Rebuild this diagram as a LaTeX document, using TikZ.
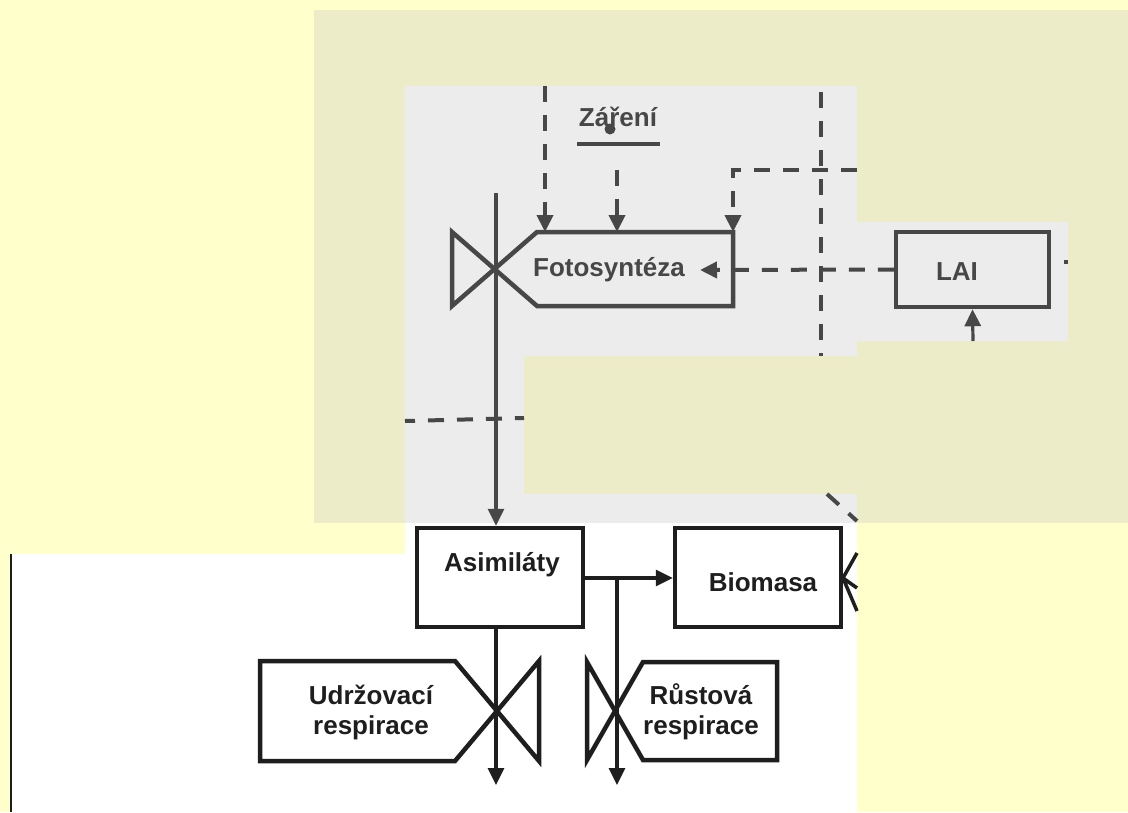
\documentclass[tikz,border=0pt]{standalone}
\usepackage{fontspec}
\setmainfont{Liberation Sans}
\usetikzlibrary{arrows.meta}

\definecolor{paper}{HTML}{FFFFCC}
\definecolor{olivepanel}{HTML}{ECECC8}
\definecolor{greypanel}{HTML}{ECECEC}
\definecolor{ink}{HTML}{474747}
\definecolor{deepink}{HTML}{1E1E1E}

\tikzset{
  lbl/.style={font=\bfseries\fontsize{26}{30}\selectfont, inner sep=0pt, align=center},
  boxshape/.style={line width=4.5pt, line join=miter},
  solidflow/.style={line width=3.2pt},
  dashflow/.style={line width=4pt, dash pattern=on 16pt off 13pt},
  tip/.style={-{Triangle[length=17pt,width=16pt]}},
}

\begin{document}
\begin{tikzpicture}[x=1pt,y=-1pt]
% page and panels
\fill[paper] (0,0) rectangle (1128,812);
\useasboundingbox (0,0) rectangle (1128,812);
\fill[olivepanel] (314,10) rectangle (1128,523);
\fill[greypanel] (405,86) -- (857,86) -- (857,222) -- (1068,222) -- (1068,341)
  -- (857,341) -- (857,356) -- (524,356) -- (524,494) -- (857,494) -- (857,523)
  -- (405,523) -- cycle;
\fill[white] (405,523) -- (857,523) -- (857,812) -- (11,812) -- (11,554) -- (405,554) -- cycle;
\draw[deepink, line width=2pt] (11,554) -- (11,812);

% ---------- upper part (grey panel) ----------
\begin{scope}[draw=ink, text=ink, fill=ink]
  % radiation source
  \node[lbl] (zareni) at (618,117) {Záření};
  \fill (610,129) circle (5.5);
  \draw[line width=4pt] (577,144) -- (660,144);
  \coordinate (zbase) at (617,170);

  % photosynthesis box with its valve
  \draw[boxshape] (733,232) -- (537,232) -- (452,306) -- (452,232) -- (537,306)
    -- (733,306) -- cycle;
  \node[lbl] (foto) at (609,270) {Fotosyntéza};
  \coordinate (fotoN1) at (545,232);
  \coordinate (fotoN2) at (617,232);
  \coordinate (fotoNE) at (733,232);
  \coordinate (fotoIn) at (700,270);
  \coordinate (valveTop) at (496,193);
  \coordinate (valveC) at (495,269);

  % LAI box
  \node[boxshape, draw, minimum width=153pt, minimum height=75pt, inner sep=0pt] (lai) at (972.5,269.5) {};
  \node[lbl] (lailbl) at (957,272) {LAI};
  \coordinate (laiFeed) at (973,341);
  \coordinate (laiOut) at (1068,262);

  % dashed information links
  \coordinate (topA) at (545,86);
  \draw[dashflow, tip] (topA) -- (fotoN1);
  \draw[dashflow, tip] (zbase) -- (fotoN2);
  \coordinate (rightA) at (857,170);
  \draw[dashflow, tip] (rightA) -- (733,170) -- (fotoNE);
  \draw[dashflow, tip] (lai.west) -- (fotoIn);
  \draw[dashflow, dash phase=16pt] (lai.east |- laiOut) -- (laiOut);
  \coordinate (vTop) at (821,92);
  \coordinate (vBot) at (821,356);
  \draw[dashflow] (vTop) -- (vBot);
  \coordinate (hL) at (405,421);
  \coordinate (hR) at (524,418);
  \draw[dashflow, dash phase=6pt] (hL) -- (hR);
  \coordinate (dA) at (827,494);
  \coordinate (dB) at (857,521);
  \draw[dashflow] (dA) -- (dB);
  \draw[solidflow, tip] (laiFeed) -- (lai.south);
\end{scope}

% ---------- lower part (white panel) ----------
\begin{scope}[draw=deepink, text=deepink, fill=deepink]
  \node[boxshape, draw, minimum width=166pt, minimum height=99pt, inner sep=0pt] (asim) at (500,577.5) {};
  \node[lbl] (asimlbl) at (502,565) {Asimiláty};
  \node[boxshape, draw, minimum width=166pt, minimum height=99pt, inner sep=0pt] (bio) at (758,577.5) {};
  \node[lbl] (biolbl) at (763,582) {Biomasa};

  % maintenance respiration with valve
  \draw[boxshape] (260,661) -- (455,661) -- (539,761) -- (539,661) -- (455,761)
    -- (260,761) -- cycle;
  \node[lbl] (udr) at (371,712) {Udržovací\\respirace};
  % growth respiration with valve
  \draw[boxshape] (777,662) -- (643,662) -- (587,760) -- (587,662) -- (643,760)
    -- (777,760) -- cycle;
  \node[lbl] (rust) at (701,712) {Růstová\\respirace};

  \coordinate (split) at (617,578);
  \coordinate (outA) at (496,785);
  \coordinate (outB) at (617,785);
  \draw[solidflow, tip] (asim.east |- split) -- (bio.west |- split);
  \draw[solidflow, tip] (split) -- (outB);
  \draw[solidflow, tip] (asim.south -| outA) -- (outA);

  % outflow valve on the biomass box
  \coordinate (bioV) at (843,578);
  \coordinate (bv1) at (857,553);
  \coordinate (bv2) at (857,588);
  \coordinate (bv3) at (857,611);
  \draw[line width=3.5pt] (bv1) -- (bioV) -- (bv3) (bioV) -- (bv2);
\end{scope}

% main assimilate flow from photosynthesis
\draw[ink, solidflow, tip] (valveTop) -- (asim.north -| valveTop);
\end{tikzpicture}
\end{document}
